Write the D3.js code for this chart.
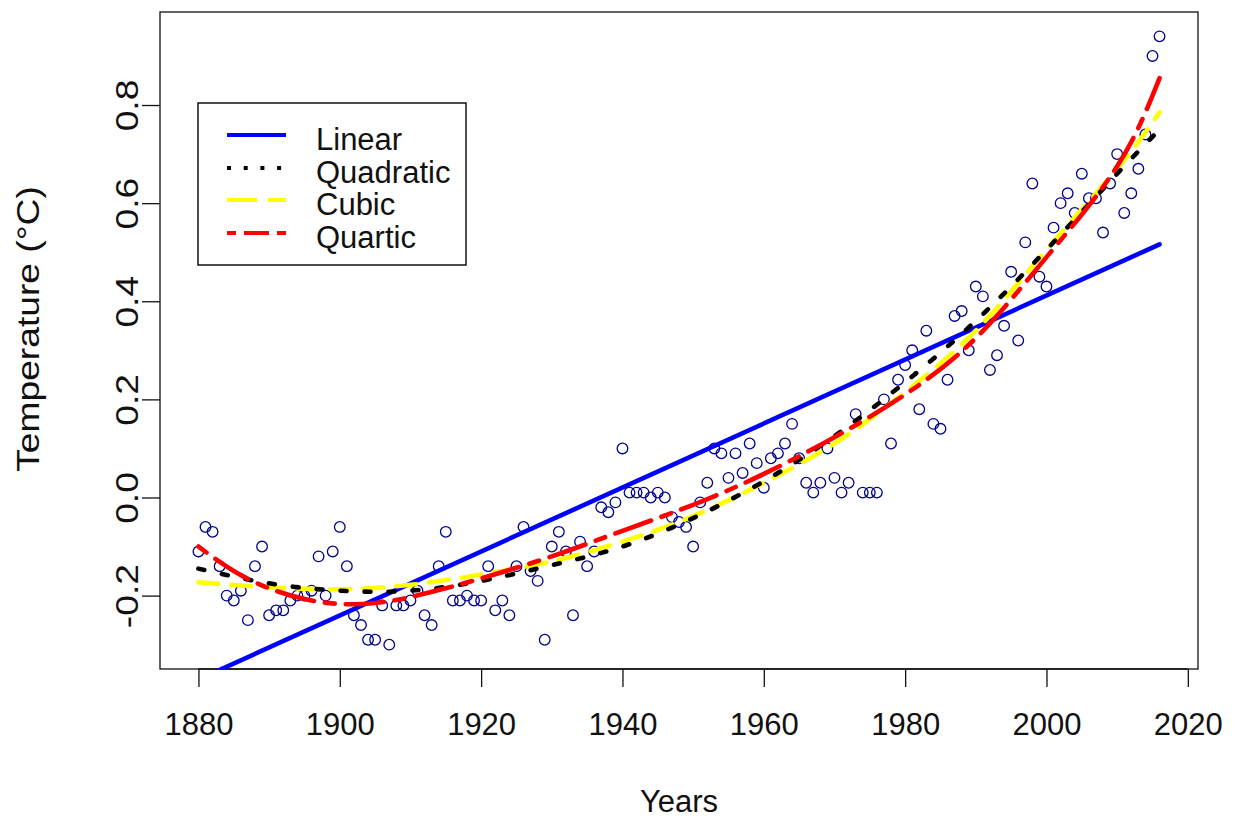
<!DOCTYPE html>
<html>
<head>
<meta charset="utf-8">
<script src="https://cdn.jsdelivr.net/npm/d3@7"></script>
<style>
  body { margin: 0; background: #fff; }
  svg { display: block; }
  text { font-family: "Liberation Sans", Arial, sans-serif; fill: #111; }
</style>
</head>
<body>
<svg id="chart" width="1233" height="820"></svg>
<script>
// Annual global temperature anomalies (°C), 1880–2016
const years = d3.range(1880, 2017);
const anomalies = [
  -0.11, -0.06, -0.07, -0.14, -0.20, -0.21, -0.19, -0.25, -0.14, -0.10,
  -0.24, -0.23, -0.23, -0.21, -0.20, -0.20, -0.19, -0.12, -0.20, -0.11,
  -0.06, -0.14, -0.24, -0.26, -0.29, -0.29, -0.22, -0.30, -0.22, -0.22,
  -0.21, -0.19, -0.24, -0.26, -0.14, -0.07, -0.21, -0.21, -0.20, -0.21,
  -0.21, -0.14, -0.23, -0.21, -0.24, -0.14, -0.06, -0.15, -0.17, -0.29,
  -0.10, -0.07, -0.11, -0.24, -0.09, -0.14, -0.11, -0.02, -0.03, -0.01,
   0.10,  0.01,  0.01,  0.01,  0.00,  0.01,  0.00, -0.04, -0.05, -0.06,
  -0.10, -0.01,  0.03,  0.10,  0.09,  0.04,  0.09,  0.05,  0.11,  0.07,
   0.02,  0.08,  0.09,  0.11,  0.15,  0.08,  0.03,  0.01,  0.03,  0.10,
   0.04,  0.01,  0.03,  0.17,  0.01,  0.01,  0.01,  0.20,  0.11,  0.24,
   0.27,  0.30,  0.18,  0.34,  0.15,  0.14,  0.24,  0.37,  0.38,  0.30,
   0.43,  0.41,  0.26,  0.29,  0.35,  0.46,  0.32,  0.52,  0.64,  0.45,
   0.43,  0.55,  0.60,  0.62,  0.58,  0.66,  0.61,  0.61,  0.54,  0.64,
   0.70,  0.58,  0.62,  0.67,  0.74,  0.90,  0.94
];

// Fitted trend curves
const linearYears = [1880, 2016];
const linearFit = [-0.371, 0.516];

const polyYears = [1880, 1890, 1900, 1910, 1920, 1930, 1940, 1950, 1960, 1970, 1980, 1990, 2000, 2010, 2016];
const quadraticFit = [-0.145, -0.175, -0.19, -0.19, -0.17, -0.138, -0.10, -0.042, 0.033, 0.125, 0.235, 0.36, 0.505, 0.66, 0.75];
const cubicFit = [-0.173, -0.183, -0.187, -0.178, -0.157, -0.13, -0.09, -0.038, 0.03, 0.11, 0.215, 0.34, 0.505, 0.67, 0.785];

const quarticYears = [1880, 1885, 1890, 1895, 1900, 1905, 1910, 1915, 1920, 1930, 1940, 1950, 1960, 1970, 1980, 1990, 2000, 2010, 2016];
const quarticFit = [-0.10, -0.15, -0.185, -0.207, -0.217, -0.215, -0.203, -0.185, -0.165, -0.12, -0.068, -0.015, 0.048, 0.123, 0.21, 0.325, 0.49, 0.675, 0.855];

const xTicks = [1880, 1900, 1920, 1940, 1960, 1980, 2000, 2020];
const yTicks = [-0.2, 0.0, 0.2, 0.4, 0.6, 0.8];

const legendLabels = ["Linear", "Quadratic", "Cubic", "Quartic"];

// ---- layout ----
const svg = d3.select("#chart");
const box = { left: 160, right: 1198, top: 12, bottom: 669 };
const FONT = 31;
const V_STRETCH = 1.2; // glyphs are drawn taller than wide

// axis ranges padded 4% beyond the data, as base graphics do
function padded(ext) {
  const d = (ext[1] - ext[0]) * 0.04;
  return [ext[0] - d, ext[1] + d];
}
const x = d3.scaleLinear().domain(padded(d3.extent(years))).range([box.left, box.right]);
const y = d3.scaleLinear().domain(padded(d3.extent(anomalies))).range([box.bottom, box.top]);

svg.append("defs").append("clipPath").attr("id", "plotClip")
  .append("rect")
  .attr("x", box.left).attr("y", box.top)
  .attr("width", box.right - box.left).attr("height", box.bottom - box.top);

// ---- axes ----
const xAxis = svg.append("g")
  .attr("transform", `translate(0,${box.bottom})`)
  .call(d3.axisBottom(x).tickValues(xTicks).tickFormat(d3.format("d")).tickSize(18).tickPadding(26));
const yAxis = svg.append("g")
  .attr("transform", `translate(${box.left},0)`)
  .call(d3.axisLeft(y).tickValues(yTicks).tickFormat(d => d3.format(".1f")(d).replace("−", "-")).tickSize(18).tickPadding(0));

[xAxis, yAxis].forEach(g => {
  g.select(".domain").remove();
  g.selectAll(".tick line").attr("stroke", "#111").attr("stroke-width", 1.3);
  g.selectAll(".tick text").attr("font-size", FONT).attr("fill", "#111")
    .attr("font-family", "Liberation Sans, Arial, sans-serif");
});
// axis base lines spanning first to last tick
xAxis.append("line").attr("x1", x(xTicks[0])).attr("x2", x(xTicks[xTicks.length - 1]))
  .attr("y1", 0).attr("y2", 0).attr("stroke", "#111").attr("stroke-width", 1.3);

yAxis.selectAll(".tick text")
  .attr("x", 0).attr("y", 0).attr("dy", null)
  .attr("text-anchor", "middle")
  .attr("dominant-baseline", "auto")
  .attr("transform", `translate(-22,0) rotate(-90) scale(${V_STRETCH},1)`);

// plot frame
svg.append("rect")
  .attr("x", box.left).attr("y", box.top)
  .attr("width", box.right - box.left).attr("height", box.bottom - box.top)
  .attr("fill", "none").attr("stroke", "#111").attr("stroke-width", 1.3);

// axis titles
svg.append("text")
  .attr("x", (box.left + box.right) / 2).attr("y", 812)
  .attr("text-anchor", "middle").attr("font-size", FONT)
  .text("Years");
svg.append("text")
  .attr("transform", `translate(39,329) rotate(-90) scale(${V_STRETCH},1)`)
  .attr("text-anchor", "middle").attr("font-size", FONT)
  .text("Temperature (°C)");

// ---- observations ----
const plot = svg.append("g").attr("clip-path", "url(#plotClip)");
plot.append("g").selectAll("circle")
  .data(years.map((yr, i) => [yr, anomalies[i]]))
  .join("circle")
  .attr("cx", d => x(d[0])).attr("cy", d => y(d[1]))
  .attr("r", 5.3)
  .attr("fill", "none").attr("stroke", "#00008B").attr("stroke-width", 1.3);

// ---- trend curves ----
const curve = d3.line().x(d => x(d[0])).y(d => y(d[1])).curve(d3.curveNatural);
const zip = (a, b) => a.map((v, i) => [v, b[i]]);

const fits = [
  { pts: zip(linearYears, linearFit), color: "#0000FF", dash: null },
  { pts: zip(polyYears, cubicFit), color: "#FFFF00", dash: "20,13" },
  { pts: zip(polyYears, quadraticFit), color: "#000000", dash: "6,18" },
  { pts: zip(quarticYears, quarticFit), color: "#FF0000", dash: "10,11,38,11" }
];
fits.forEach(f => {
  plot.append("path")
    .attr("d", curve(f.pts))
    .attr("fill", "none")
    .attr("stroke", f.color)
    .attr("stroke-width", 4.6)
    .attr("stroke-linecap", "round")
    .attr("stroke-dasharray", f.dash);
});

// ---- legend ----
const legend = svg.append("g");
legend.append("rect")
  .attr("x", 198).attr("y", 103).attr("width", 268).attr("height", 162)
  .attr("fill", "#fff").attr("stroke", "#111").attr("stroke-width", 1.5);
const legendStyles = [
  { color: "#0000FF", dash: null },
  { color: "#000000", dash: "4,12.7" },
  { color: "#FFFF00", dash: "30,11" },
  { color: "#FF0000", dash: "9,8,25,8" }
];
const rowY = [135, 168, 200, 233];
legendLabels.forEach((lab, i) => {
  legend.append("line")
    .attr("x1", 227).attr("x2", 286).attr("y1", rowY[i]).attr("y2", rowY[i])
    .attr("stroke", legendStyles[i].color).attr("stroke-width", 4)
    .attr("stroke-dasharray", legendStyles[i].dash);
  legend.append("text")
    .attr("x", 316).attr("y", rowY[i] + 15)
    .attr("font-size", FONT)
    .text(lab);
});
</script>
</body>
</html>
